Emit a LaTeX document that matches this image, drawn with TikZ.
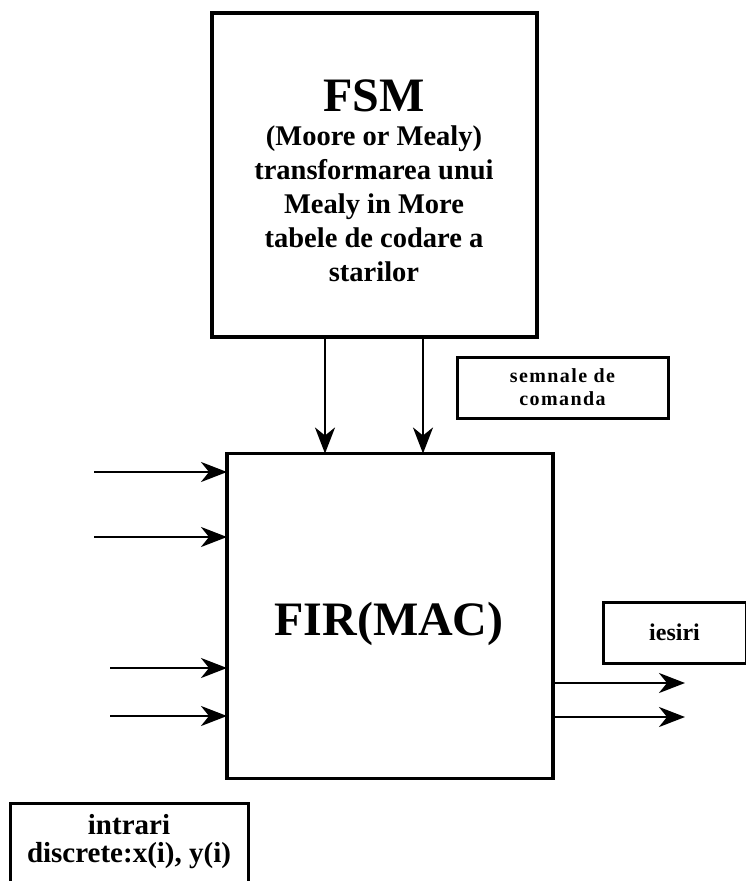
\documentclass[tikz,border=0pt]{standalone}
\usepackage{fontspec}
\setmainfont{Liberation Serif}
\newfontfamily\spacedserif{Liberation Serif}[LetterSpace=7]
\usetikzlibrary{arrows.meta}
\begin{document}
\begin{tikzpicture}[x=1pt,y=-1pt,
  block/.style={draw,line width=3.5pt,inner sep=0pt,outer sep=0pt},
  thinblock/.style={draw,line width=3pt,inner sep=0pt,outer sep=0pt},
  flow/.style={line width=2.8pt,-{Stealth[length=26pt,width=20pt,inset=8pt]}},
  lbl/.style={inner sep=0pt,outer sep=0pt,align=center}]
\useasboundingbox (0,0) rectangle (746,881);

% main blocks
\node[block,minimum width=325pt,minimum height=324pt] (fsm) at (374.5,175) {};
\node[block,minimum width=326pt,minimum height=325pt] (fir) at (390,616) {};

\node[lbl,anchor=base,font=\bfseries\fontsize{48}{52}\selectfont] (fsmtitle) at (374,111) {FSM};
\node[lbl,anchor=north,font=\bfseries\fontsize{28.5}{34}\selectfont] (fsmbody) at (374,126)
  {(Moore or Mealy)\\transformarea unui\\Mealy in More\\tabele de codare a\\starilor};
\node[lbl,anchor=base,font=\bfseries\fontsize{48}{52}\selectfont] (firtitle) at (389,635) {FIR(MAC)};

% annotation boxes
\node[thinblock,minimum width=211pt,minimum height=61pt,
      font=\spacedserif\bfseries\fontsize{20}{23}\selectfont,align=center] (sem) at (562.5,387.5)
  {semnale de\\comanda};
\node[thinblock,minimum width=143pt,minimum height=61pt,
      font=\bfseries\fontsize{24}{28}\selectfont] (ies) at (674.5,632.5) {iesiri};
\node[thinblock,minimum width=238pt,minimum height=92pt] (intr) at (129,849) {};
\node[lbl,font=\bfseries\fontsize{29}{28}\selectfont] (intrtext) at (129,842)
  {intrari\\discrete:x(i), y(i)};

% control signals from the FSM into the FIR
\coordinate (d1) at (325,0);
\coordinate (d2) at (423,0);
\draw[flow] (fsm.south -| d1) -- (fir.north -| d1);
\draw[flow] (fsm.south -| d2) -- (fir.north -| d2);

% discrete inputs
\coordinate (in1) at (94,472);
\coordinate (in2) at (94,537);
\coordinate (in3) at (110,668);
\coordinate (in4) at (110,716);
\foreach \i in {1,...,4} \draw[flow] (in\i) -- (in\i -| fir.west);

% outputs
\coordinate (out1) at (685,683);
\coordinate (out2) at (685,717);
\foreach \i in {1,2} \draw[flow] (out\i -| fir.east) -- (out\i);
\end{tikzpicture}
\end{document}
